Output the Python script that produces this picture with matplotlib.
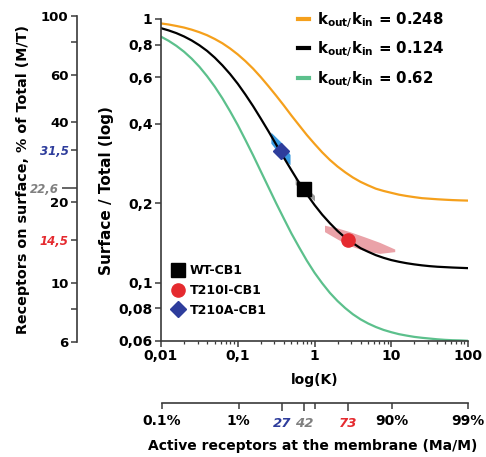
import matplotlib
matplotlib.use("Agg")
import matplotlib.pyplot as plt
from matplotlib.ticker import NullLocator, LogLocator, FixedLocator, NullFormatter

plt.rcParams['font.family'] = ['DejaVu Sans']
plt.rcParams['font.weight'] = 'bold'
plt.rcParams['mathtext.default'] = 'bf'

# ---------------- data ----------------
K_grid = [0.01, 0.01259, 0.01585, 0.01995, 0.02512, 0.03162, 0.03981, 0.05012, 0.0631, 0.07943,
          0.1, 0.1259, 0.1585, 0.1995, 0.2512, 0.3162, 0.3981, 0.5012, 0.631, 0.7943,
          1.0, 1.259, 1.585, 1.995, 2.512, 3.162, 3.981, 5.012, 6.31, 7.943,
          10.0, 12.59, 15.85, 19.95, 25.12, 31.62, 39.81, 50.12, 63.1, 79.43, 100.0]
orange_vals = [0.962, 0.953, 0.941, 0.928, 0.911, 0.891, 0.868, 0.840, 0.809, 0.773,
               0.734, 0.692, 0.648, 0.602, 0.556, 0.512, 0.470, 0.430, 0.395, 0.363,
               0.336, 0.312, 0.292, 0.2756, 0.262, 0.2504, 0.241, 0.2336, 0.227, 0.2226,
               0.219, 0.2155, 0.213, 0.2109, 0.209, 0.208, 0.207, 0.2062, 0.2055, 0.205, 0.2046]
black_vals = [0.923, 0.905, 0.884, 0.8586, 0.829, 0.795, 0.757, 0.7137, 0.667, 0.6183,
              0.568, 0.5166, 0.467, 0.4191, 0.375, 0.3342, 0.298, 0.2666, 0.239, 0.2163,
              0.197, 0.181, 0.168, 0.157, 0.148, 0.1411, 0.135, 0.1308, 0.127, 0.1241,
              0.1217, 0.1199, 0.1184, 0.1172, 0.1162, 0.1154, 0.1148, 0.1144, 0.114, 0.1137, 0.1134]
green_vals = [0.857, 0.8263, 0.791, 0.7515, 0.707, 0.6589, 0.607, 0.554, 0.500, 0.4466,
              0.396, 0.3475, 0.304, 0.2644, 0.230, 0.2001, 0.175, 0.1534, 0.136, 0.1211,
              0.109, 0.0994, 0.0914, 0.0851, 0.0800, 0.0758, 0.0725, 0.0699, 0.0678, 0.0661,
              0.0648, 0.0637, 0.0629, 0.0622, 0.0617, 0.0613, 0.0609, 0.0606, 0.0604, 0.0603, 0.0601]
curve_labels = [r'$k_{out/}k_{in}$ = 0.248', r'$k_{out/}k_{in}$ = 0.124', r'$k_{out/}k_{in}$ = 0.62']

point_names = ['WT-CB1', 'T210I-CB1', 'T210A-CB1']
point_K = [0.724, 2.70, 0.37]
point_v = [0.226, 0.145, 0.315]

# uncertainty bands (K, upper, lower)
blue_band_K = [0.27, 0.37, 0.48]
blue_band_hi = [0.372, 0.340, 0.306]
blue_band_lo = [0.338, 0.300, 0.280]
gray_band_K = [0.56, 0.74, 1.0]
gray_band_hi = [0.252, 0.233, 0.214]
gray_band_lo = [0.236, 0.219, 0.204]
pink_band_K = [1.35, 2.0, 2.87, 4.5, 7.07, 11.1]
pink_band_hi = [0.165, 0.161, 0.156, 0.149, 0.142, 0.134]
pink_band_lo = [0.156, 0.146, 0.138, 0.132, 0.129, 0.131]

y_ticks = [0.06, 0.08, 0.1, 0.2, 0.4, 0.6, 0.8, 1]
y_ticklabels = ['0,06', '0,08', '0,1', '0,2', '0,4', '0,6', '0,8', '1']
x_ticks = [0.01, 0.1, 1, 10, 100]
x_ticklabels = ['0,01', '0,1', '1', '10', '100']

left_ticks = [6, 8, 10, 14.5, 20, 22.6, 31.5, 40, 60, 80, 100]
left_ticklabels = ['6', '', '10', '14,5', '20', '22,6', '31,5', '40', '60', '', '100']

bottom_ticks = [0.01, 0.1, 0.37, 0.724, 1.0, 2.70, 10, 100]
bottom_ticklabels = ['0.1%', '1%', '27', '42', '', '73', '90%', '99%']

# ---------------- style ----------------
ORANGE = '#f5a01c'
GREEN = '#5cc08c'
RED = '#e52a2f'
BLUE = '#2e3d9c'
GRAY = '#808080'
SPINE = '#3a3a3a'

W, H = 486, 457
fig = plt.figure(figsize=(W / 100, H / 100), dpi=100)

def fx(px):
    return px / W

def fy(py):
    return 1 - py / H

ax = fig.add_axes([fx(161), fy(341), (468 - 161) / W, (341 - 19) / H])
ax.set_xscale('log')
ax.set_yscale('log')
ax.set_xlim(0.01, 100)
ax.set_ylim(0.06, 1)

# bands
ax.fill_between(blue_band_K, blue_band_lo, blue_band_hi, color='#3a9be0', lw=0, zorder=1)
ax.fill_between(gray_band_K, gray_band_lo, gray_band_hi, color='#9a9a9a', lw=0, zorder=1)
ax.fill_between(pink_band_K, pink_band_lo, pink_band_hi, color='#eaa2a8', lw=0, zorder=1)

l1, = ax.plot(K_grid, orange_vals, color=ORANGE, lw=1.6, zorder=2)
l2, = ax.plot(K_grid, black_vals, color='black', lw=1.6, zorder=2)
l3, = ax.plot(K_grid, green_vals, color=GREEN, lw=1.6, zorder=2)

m1, = ax.plot([point_K[0]], [point_v[0]], ls='none', marker='s', ms=9.5, color='black', zorder=3)
m2, = ax.plot([point_K[1]], [point_v[1]], ls='none', marker='o', ms=9.5, color=RED, zorder=3)
m3, = ax.plot([point_K[2]], [point_v[2]], ls='none', marker='D', ms=8, color=BLUE, zorder=3)

for s in ['top', 'right']:
    ax.spines[s].set_visible(False)
for s in ['left', 'bottom']:
    ax.spines[s].set_color(SPINE)
    ax.spines[s].set_linewidth(1.2)

ax.yaxis.set_major_locator(FixedLocator(y_ticks))
ax.set_yticklabels(y_ticklabels)
ax.yaxis.set_minor_locator(NullLocator())
ax.xaxis.set_major_locator(FixedLocator(x_ticks))
ax.set_xticklabels(x_ticklabels)
ax.xaxis.set_minor_locator(LogLocator(base=10, subs=range(2, 10)))
ax.xaxis.set_minor_formatter(NullFormatter())
ax.tick_params(axis='both', which='major', length=4, width=1.1, color=SPINE,
               labelsize=10, pad=2)
ax.tick_params(axis='x', which='minor', length=2.5, width=0.9, color=SPINE)

leg1 = ax.legend([l1, l2, l3], curve_labels, loc='upper left',
                 bbox_to_anchor=(fx(298), fy(10)), bbox_transform=fig.transFigure,
                 frameon=False, handlelength=0.75, handletextpad=0.5, labelspacing=0.62,
                 borderpad=0, borderaxespad=0, prop={'size': 10.8, 'weight': 'bold'})
for ln in leg1.get_lines():
    ln.set_linewidth(3)
ax.add_artist(leg1)

leg2 = ax.legend([m1, m2, m3], point_names, loc='upper left',
                 bbox_to_anchor=(fx(172), fy(264)), bbox_transform=fig.transFigure,
                 frameon=False, handlelength=1.0, handletextpad=0.4, labelspacing=0.55,
                 borderpad=0, borderaxespad=0, prop={'size': 9, 'weight': 'bold'})

# ---------------- left axis (% of total) ----------------
ax2 = fig.add_axes([fx(77), fy(342), 0.0001, (342 - 16) / H])
ax2.set_yscale('log')
ax2.set_ylim(6, 100)
ax2.set_xticks([])
for s in ['top', 'right', 'bottom']:
    ax2.spines[s].set_visible(False)
ax2.spines['left'].set_color(SPINE)
ax2.spines['left'].set_linewidth(1.2)
ax2.yaxis.set_major_locator(FixedLocator(left_ticks))
ax2.set_yticklabels(left_ticklabels)
ax2.yaxis.set_minor_locator(NullLocator())
ax2.tick_params(axis='y', length=4, width=1.1, color=SPINE, labelsize=9.5, pad=2)
color_map = {'14,5': RED, '22,6': GRAY, '31,5': BLUE}
for tick, lab in zip(ax2.yaxis.get_major_ticks(), left_ticklabels):
    if lab in color_map:
        tick.label1.set_color(color_map[lab])
        tick.label1.set_fontstyle('italic')
        tick.label1.set_fontsize(8.5)
    if lab == '22,6':
        tick._apply_params(size=11)

# ---------------- bottom axis (active receptors) ----------------
ax3 = fig.add_axes([fx(162), fy(403), (468 - 162) / W, 0.0001])
ax3.set_xscale('log')
ax3.set_xlim(0.01, 100)
ax3.set_yticks([])
for s in ['top', 'right', 'left']:
    ax3.spines[s].set_visible(False)
ax3.spines['bottom'].set_color(SPINE)
ax3.spines['bottom'].set_linewidth(1.2)
ax3.xaxis.set_major_locator(FixedLocator(bottom_ticks))
ax3.set_xticklabels(bottom_ticklabels)
ax3.xaxis.set_minor_locator(NullLocator())
ax3.tick_params(axis='x', length=4, width=1.1, color=SPINE, labelsize=10, pad=4)
bcolor = {'27': BLUE, '42': GRAY, '73': RED}
for tick, lab in zip(ax3.xaxis.get_major_ticks(), bottom_ticklabels):
    if lab in bcolor:
        tick.label1.set_color(bcolor[lab])
        tick.label1.set_fontstyle('italic')
        tick.label1.set_fontsize(9.5)
        tick._apply_params(size=6)

# ---------------- axis titles ----------------
fig.text(fx(106), fy(191), 'Surface / Total (log)', rotation=90, ha='center', va='center',
         fontsize=11, fontweight='bold')
fig.text(fx(23), fy(179), 'Receptors on surface, % of Total (M/T)', rotation=90,
         ha='center', va='center', fontsize=10.3, fontweight='bold')
fig.text(fx(315), fy(380), 'log(K)', ha='center', va='center', fontsize=10, fontweight='bold')
fig.text(fx(313), fy(446), 'Active receptors at the membrane (Ma/M)', ha='center', va='center',
         fontsize=10, fontweight='bold')

fig.savefig('out.png', dpi=100)
